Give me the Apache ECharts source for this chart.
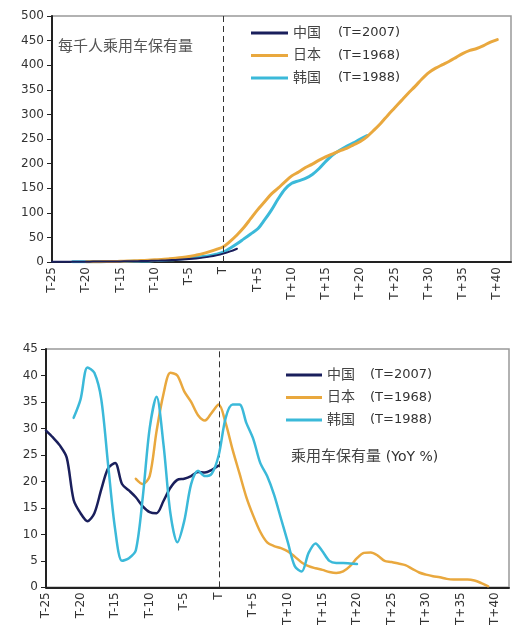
<!DOCTYPE html>
<html>
<head>
<meta charset="utf-8">
<script src="https://cdn.jsdelivr.net/npm/echarts@6/dist/echarts.min.js"></script>
<style>
html,body{margin:0;padding:0;background:#fff;}
#c{width:513px;height:628px;}
</style>
</head>
<body>
<div id="c"></div>
<script>
// x categories: years relative to T
var offsets = [];
for (var k = -25; k <= 42; k++) offsets.push(k);

// ---- Top chart: passenger cars per 1000 people ----
var chinaLevelStart = -25;
var chinaLevel = [0.4,0.4,0.5,0.5,0.6,0.7,0.8,0.9,1.0,1.1,1.2,1.4,1.6,1.9,2.2,2.6,3.0,3.5,4.2,5.0,6.0,7.3,8.9,10.9,13.5,17,21.5,27];
var japanLevelStart = -20;
var japanLevel = [0.5,0.6,0.7,0.9,1.1,1.4,1.8,2.3,2.9,3.6,4.4,5.2,6.3,7.5,9,11,14,17,21,25.5,31,
  42,55,70,88,106,122,138,150,163,175,183,192,199,207,214,220,226,231,238,245,
  255,268,282,298,313,328,343,357,372,385,394,401,408,416,424,430,434,440,447,452];
var koreaLevelStart = -22;
var koreaLevel = [0.3,0.4,0.5,0.6,0.7,0.8,0.9,1.0,1.2,1.5,1.8,2.2,3.0,3.6,4.4,5.3,6.5,8.0,9.5,11,13,16,20,
  28,37,47,57,67,85,105,128,148,160,165,170,178,190,205,218,227,235,242,250,257];

// ---- Bottom chart: YoY % ----
var chinaYoYStart = -25;
var chinaYoY = [29.6,28.3,26.8,24.5,16.5,14.0,12.5,14.0,18.5,22.5,23.5,19.5,18.3,17.0,15.3,14.2,14.0,16.3,18.8,20.3,20.5,21.0,21.8,21.7,22.2,23];
var japanYoYStart = -12;
var japanYoY = [20.5,19.5,21,29.5,36.5,40.5,40,37,35,32.5,31.5,33,34.5,
  31,26,21.5,17,13.5,10.5,8.5,7.8,7.4,6.8,5.8,4.7,4,3.6,3.3,2.9,2.7,3,4,5.5,6.5,6.6,6,5,4.8,4.5,4.2,3.5,2.8,2.4,2.1,1.9,1.6,1.5,1.5,1.5,1.3,0.8,0.2];
var koreaYoYStart = -21;
var koreaYoY = [32,35.5,41.5,40.5,35.5,23,11,5,5.5,7,17,30,36,27,14,8.5,12.5,19.5,22,21,21.5,25,
  32,34.5,34.5,31,28,23.5,21,17.5,13,8.5,4,3,6.5,8.3,6.8,5,4.6,4.6,4.5,4.4];

var legendNames = ['中国','日本','韩国'];
var legendTags = ['(T=2007)','(T=1968)','(T=1988)'];
var yTicksTop = {min:0, max:500, step:50};
var yTicksBottom = {min:0, max:45, step:5};

function place(start, vals) {
  var out = offsets.map(function(){ return null; });
  for (var i = 0; i < vals.length; i++) {
    var idx = start - offsets[0] + i;
    if (idx >= 0 && idx < out.length) out[idx] = vals[i];
  }
  return out;
}

var cats = offsets.map(String);
var colors = {'中国':'#1a1f5c','日本':'#E9A83E','韩国':'#3BB9D9'};
var labelFont = 'DejaVu Sans';
var mixFont = '"DejaVu Sans", "Noto Sans CJK SC"';
var cjkFont = 'Noto Sans CJK SC';

function xAxis(gi) {
  return {
    type:'category', gridIndex:gi, data:cats, boundaryGap:false,
    axisLine:{lineStyle:{color:'#222', width:2}},
    axisTick:{show:false},
    axisLabel:{interval:4, rotate:90, margin:5, color:'#333', fontFamily:labelFont, fontSize:12,
      formatter:function(v){ var n = Number(v); return n===0?'T':(n>0?'T+'+n:'T'+n); }},
    splitLine:{show:false}
  };
}
function yAxis(gi, t) {
  return {
    type:'value', gridIndex:gi, min:t.min, max:t.max, interval:t.step,
    axisLine:{show:true, lineStyle:{color:'#222', width:2}},
    axisTick:{show:true, length:5, lineStyle:{color:'#222', width:1}},
    axisLabel:{color:'#333', fontFamily:labelFont, fontSize:12, margin:8},
    splitLine:{show:false}
  };
}
function line(name, gi, data, width, z) {
  return {
    type:'line', name:name, xAxisIndex:gi, yAxisIndex:gi, data:data,
    symbol:'none', smooth:0.3, connectNulls:false, z:z,
    lineStyle:{color:colors[name], width:width, cap:'round', join:'round'},
    itemStyle:{color:colors[name]}
  };
}
function vline(gi) {
  return {
    type:'line', xAxisIndex:gi, yAxisIndex:gi, data:[], silent:true,
    markLine:{symbol:'none', silent:true, label:{show:false},
      lineStyle:{type:[6,4], color:'#333', width:1},
      data:[{xAxis:'0'}]}
  };
}
function legendFmt(name){
  var i = legendNames.indexOf(name);
  return '{n|' + name + '}{t|' + legendTags[i] + '}';
}
function legendRich(nw) {
  return {
    n:{width:nw, fontSize:14, lineHeight:16, color:'#444', fontFamily:mixFont},
    t:{fontSize:13, lineHeight:16, color:'#333', fontFamily:mixFont}
  };
}

var chart = echarts.init(document.getElementById('c'), null, {renderer:'canvas'});
chart.setOption({
  animation:false,
  backgroundColor:'#fff',
  grid:[
    {left:52, top:16, width:459, height:246, show:true, borderColor:'#999', borderWidth:1.5},
    {left:46, top:349, width:463, height:246, show:true, borderColor:'#999', borderWidth:1.5}
  ],
  title:[
    {text:'每千人乘用车保有量', left:58, top:38, padding:0,
      textStyle:{fontSize:15, fontWeight:'normal', color:'#555', fontFamily:cjkFont}},
    {text:'{a|乘用车保有量 }{b|(YoY %)}', left:291, top:448, padding:0,
      textStyle:{fontWeight:'normal', rich:{
        a:{fontSize:15, fontWeight:'normal', color:'#444', fontFamily:mixFont, lineHeight:18},
        b:{fontSize:14, fontWeight:'normal', color:'#333', fontFamily:mixFont, lineHeight:18}
      }}}
  ],
  legend:[
    {orient:'vertical', left:251, top:26, padding:[0,0,0,0], itemWidth:37, itemHeight:3, itemGap:8.5,
      icon:'rect', data:legendNames,
      formatter:legendFmt, textStyle:{rich:legendRich(45)}, selectedMode:false},
    {orient:'vertical', left:286, top:368, padding:[0,0,0,0], itemWidth:36, itemHeight:3, itemGap:8.5,
      icon:'rect', data:legendNames,
      formatter:legendFmt, textStyle:{rich:legendRich(43)}, selectedMode:false}
  ],
  xAxis:[xAxis(0), xAxis(1)],
  yAxis:[yAxis(0, yTicksTop), yAxis(1, yTicksBottom)],
  series:[
    vline(0),
    line('韩国', 0, place(koreaLevelStart, koreaLevel), 3, 3),
    line('日本', 0, place(japanLevelStart, japanLevel), 3, 4),
    line('中国', 0, place(chinaLevelStart, chinaLevel), 2, 5),
    vline(1),
    line('中国', 1, place(chinaYoYStart, chinaYoY), 2.5, 3),
    line('日本', 1, place(japanYoYStart, japanYoY), 2.5, 4),
    line('韩国', 1, place(koreaYoYStart, koreaYoY), 2.5, 5)
  ]
});
</script>
</body>
</html>
